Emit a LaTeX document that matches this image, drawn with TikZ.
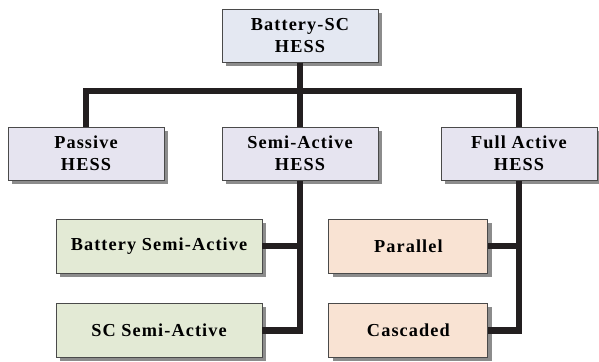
\documentclass[tikz,border=0pt]{standalone}
\usepackage{xcolor}
\usepackage{fontspec}
\setmainfont{Liberation Serif}
\newfontfamily\boxfont[LetterSpace=6]{Liberation Serif}
\usepackage{tikz}
\usetikzlibrary{shadows}

\definecolor{rootfill}{HTML}{E4E8F2}
\definecolor{typefill}{HTML}{E6E4F0}
\definecolor{semifill}{HTML}{E3EAD5}
\definecolor{fullfill}{HTML}{F9E3D3}
\definecolor{edgegray}{HTML}{4A4A4A}
\definecolor{linkblack}{HTML}{231F20}

\begin{document}
\begin{tikzpicture}[
    box/.style={
        rectangle,
        draw=edgegray,
        line width=0.6pt,
        minimum width=3.9cm,
        minimum height=1.33cm,
        align=center,
        font=\boxfont\bfseries\fontsize{13}{15.5}\selectfont,
        drop shadow={shadow xshift=0.09cm, shadow yshift=-0.09cm,
            fill=black!45, opacity=1}
    },
    leaf/.style={
        box,
        minimum height=1.35cm
    },
    link/.style={
        line width=4.4pt,
        draw=linkblack
    }
]

\useasboundingbox (0,0) rectangle (14.975,-9.025);

% ---------------- TOP ----------------

\node[box, fill=rootfill] (root) at (7.5,-0.89)
    {Battery-SC\\HESS};

% ---------------- TYPES ----------------

\node[box, fill=typefill] (passive) at (2.15,-3.84)
    {Passive\\HESS};

\node[box, fill=typefill] (semi) at (7.5,-3.84)
    {Semi-Active\\HESS};

\node[box, fill=typefill] (full) at (12.975,-3.84)
    {Full Active\\HESS};

% ---------------- SUBTYPES ----------------

\node[leaf, fill=semifill, minimum width=5.15cm] (batsemi) at (3.975,-6.15)
    {Battery Semi-Active};

\node[leaf, fill=semifill, minimum width=5.15cm] (scsemi) at (3.975,-8.26)
    {SC Semi-Active};

\node[leaf, fill=fullfill, minimum width=3.975cm] (parallel) at (10.21,-6.15)
    {Parallel};

\node[leaf, fill=fullfill, minimum width=3.975cm] (cascaded) at (10.21,-8.26)
    {Cascaded};

% ---------------- LINKS ----------------

\draw[link] (root.south) -- (semi.north);
\draw[link] (root.south) -- ++(0,-0.7) -| (passive.north);
\draw[link] (root.south) -- ++(0,-0.7) -| (full.north);

\draw[link] (batsemi.east) -| (semi.south);
\draw[link] (scsemi.east) -| (semi.south);

\draw[link] (parallel.east) -| (full.south);
\draw[link] (cascaded.east) -| (full.south);

\end{tikzpicture}
\end{document}
